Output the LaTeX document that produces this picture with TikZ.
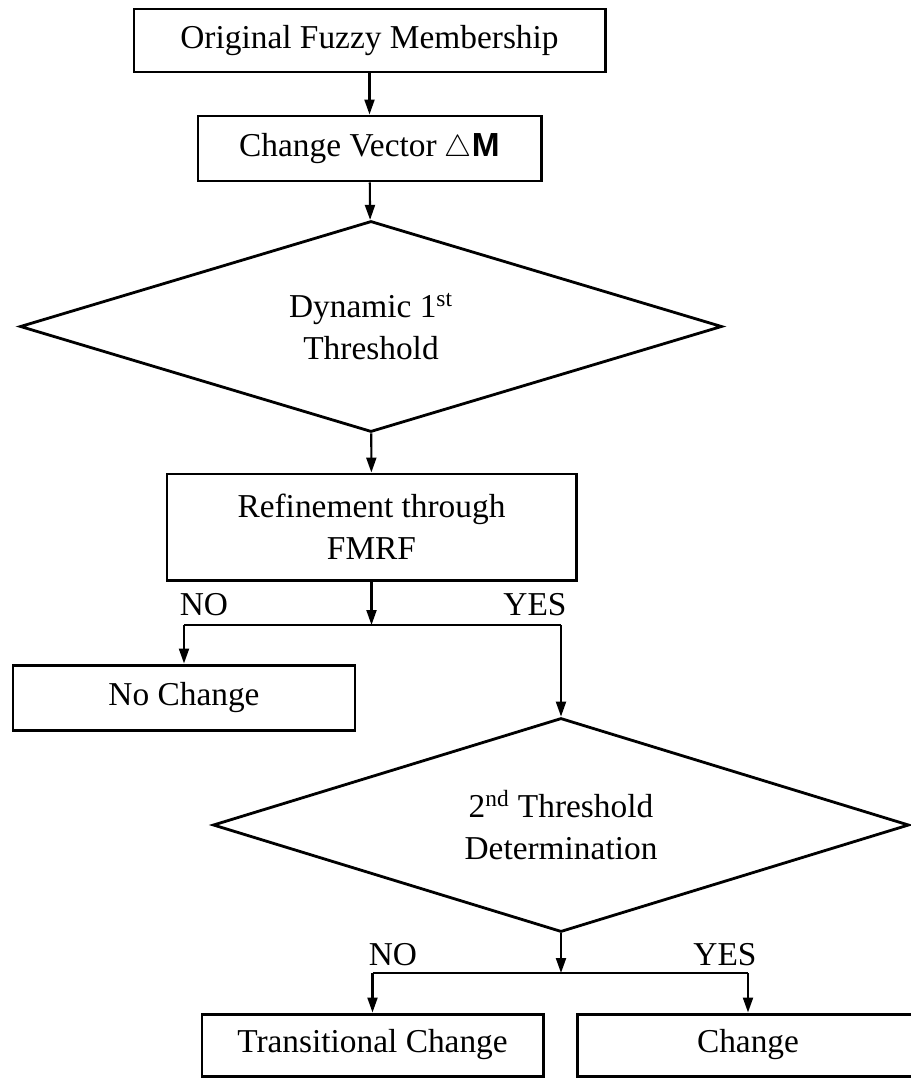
\documentclass[tikz,border=0pt]{standalone}
\usepackage{fontspec}
\setmainfont{Liberation Serif}
\setsansfont{Liberation Sans}
\usetikzlibrary{shapes.geometric,arrows.meta}

\begin{document}
\begin{tikzpicture}[x=0.02cm,y=-0.02cm,
  font=\fontsize{19}{24}\selectfont,
  box/.style={draw,line width=1.7pt,rectangle,inner sep=0pt,align=center},
  decision/.style={draw,line width=1.6pt,diamond,aspect=3.3,inner sep=0pt,align=center},
  arr/.style={line width=1.2pt,-{Triangle[length=0.3cm,width=0.2cm]}},
  lin/.style={line width=1.2pt}]
\useasboundingbox (0,0) rectangle (911,1078);
\clip (0,0) rectangle (911,1078);

\node[box,minimum width=471*0.02cm,minimum height=63*0.02cm] (orig) at (369.5,40.5) {Original Fuzzy Membership};
\node[box,minimum width=343*0.02cm,minimum height=65*0.02cm] (vec) at (369.5,148.5) {Change Vector $\triangle$\textsf{\textbf{M}}};
\node[decision,minimum width=702*0.02cm,minimum height=211*0.02cm] (thr1) at (371,326.5) {Dynamic 1\textsuperscript{st}\\Threshold};
\node[box,minimum width=409*0.02cm,minimum height=106*0.02cm] (fmrf) at (371.5,527) {Refinement through\\FMRF};
\node[box,minimum width=342*0.02cm,minimum height=65*0.02cm] (nochg) at (184,697.5) {No Change};
\node[decision,minimum width=696*0.02cm,minimum height=214*0.02cm] (thr2) at (561,825) {2\textsuperscript{nd} Threshold\\Determination};
\node[box,minimum width=341*0.02cm,minimum height=62*0.02cm] (trans) at (372.5,1045) {Transitional Change};
\node[box,minimum width=342*0.02cm,minimum height=62*0.02cm] (chg) at (748,1045) {Change};

\draw[arr] (orig) -- (vec);
\draw[arr] (vec) -- (thr1);
\draw[arr] (thr1) -- (fmrf);

% first split
\coordinate (s1) at (fmrf.south |- 0,625);
\draw[arr] (fmrf) -- (s1);
\draw[lin] (nochg.north |- s1) -- (thr2.north |- s1);
\draw[arr] (nochg.north |- s1) -- (nochg);
\draw[arr] (thr2.north |- s1) -- (thr2);
\node (no1) at (204,605) {NO};
\node (yes1) at (535,605) {YES};

% second split
\coordinate (s2) at (thr2.south |- 0,973);
\draw[arr] (thr2) -- (s2);
\draw[lin] (trans.north |- s2) -- (chg.north |- s2);
\foreach \b in {trans,chg}
  \draw[arr] (\b.north |- s2) -- (\b);
\node (no2) at (393,955) {NO};
\node (yes2) at (725,955) {YES};
\end{tikzpicture}
\end{document}
